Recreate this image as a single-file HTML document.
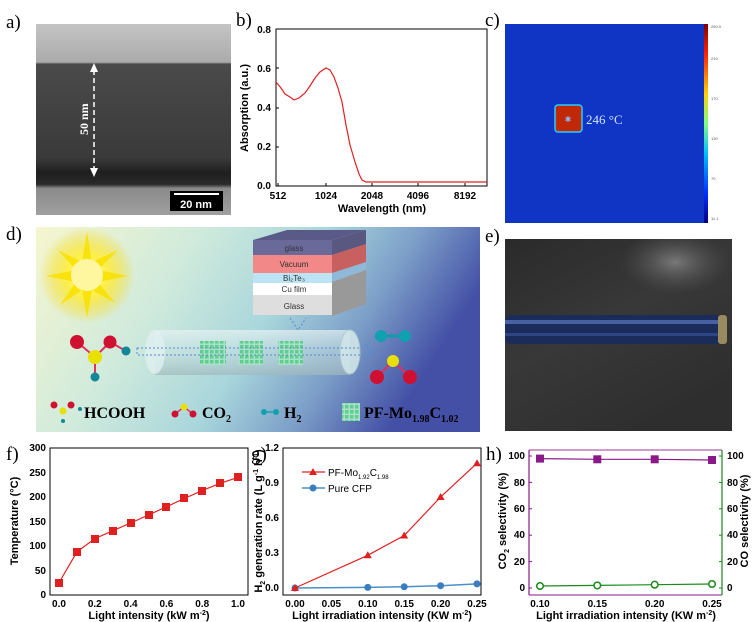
<!DOCTYPE html>
<html><head><meta charset="utf-8"><style>
html,body{margin:0;padding:0;background:#fff;}
svg{display:block;font-family:"Liberation Sans",Arial,sans-serif;}
.lb{font-family:"Liberation Serif",serif;font-size:19px;}
.tk{font-size:10px;font-weight:bold;}
.al{font-size:11px;font-weight:bold;}
</style></head><body>
<svg width="754" height="622" viewBox="0 0 754 622" xmlns="http://www.w3.org/2000/svg">
<defs>
<linearGradient id="ga" x1="0" y1="0" x2="0" y2="1">
<stop offset="0" stop-color="#c4c4c4"/><stop offset="0.2" stop-color="#ababab"/><stop offset="0.21" stop-color="#4a4a4a"/>
<stop offset="0.7" stop-color="#3a3a3a"/><stop offset="0.78" stop-color="#1e1e1e"/><stop offset="0.84" stop-color="#2a2a2a"/>
<stop offset="0.86" stop-color="#8a8a8a"/><stop offset="1" stop-color="#a0a0a0"/></linearGradient>
<linearGradient id="gd" x1="0" y1="0" x2="1" y2="0.3">
<stop offset="0" stop-color="#f6f6cf"/><stop offset="0.35" stop-color="#cfeadc"/><stop offset="0.6" stop-color="#a9d6dc"/>
<stop offset="0.8" stop-color="#7c9fc8"/><stop offset="1" stop-color="#4450a6"/></linearGradient>
<radialGradient id="gs"><stop offset="0" stop-color="#fffbe0"/><stop offset="0.4" stop-color="#fff04a"/><stop offset="1" stop-color="#f4d400" stop-opacity="0"/></radialGradient>
<linearGradient id="ge" x1="0" y1="0" x2="0.6" y2="1">
<stop offset="0" stop-color="#2a2a2a"/><stop offset="0.5" stop-color="#383838"/><stop offset="1" stop-color="#2e2e2e"/></linearGradient>
<radialGradient id="gl" cx="0.5" cy="0.5" r="0.5"><stop offset="0" stop-color="#8a8a8a" stop-opacity="0.8"/><stop offset="1" stop-color="#555" stop-opacity="0"/></radialGradient>
<linearGradient id="gcb" x1="0" y1="0" x2="0" y2="1">
<stop offset="0" stop-color="#800000"/><stop offset="0.15" stop-color="#ff2000"/><stop offset="0.35" stop-color="#ffd000"/>
<stop offset="0.5" stop-color="#80ff80"/><stop offset="0.65" stop-color="#00c0ff"/><stop offset="0.85" stop-color="#0030ff"/><stop offset="1" stop-color="#000080"/></linearGradient>
<linearGradient id="gt" x1="0" y1="0" x2="0" y2="1">
<stop offset="0" stop-color="#e8f4f4" stop-opacity="0.7"/><stop offset="0.5" stop-color="#c8e0e0" stop-opacity="0.5"/><stop offset="1" stop-color="#a0b8bc" stop-opacity="0.7"/></linearGradient>
<pattern id="mesh" width="5" height="5" patternUnits="userSpaceOnUse"><rect width="5" height="5" fill="#a9e0c8"/><rect width="3.5" height="3.5" fill="#5fcf90"/></pattern>
<clipPath id="ce"><rect x="505" y="239" width="227" height="192"/></clipPath>
</defs>

<text class="lb" x="6" y="28">a)</text>
<text class="lb" x="236" y="26">b)</text>
<text class="lb" x="485" y="26">c)</text>
<text class="lb" x="6" y="240">d)</text>
<text class="lb" x="485" y="242">e)</text>
<text class="lb" x="6" y="460">f)</text>
<text class="lb" x="251" y="460">g)</text>
<text class="lb" x="486" y="460">h)</text>

<!-- a -->
<rect x="36" y="24" width="195" height="191" fill="url(#ga)"/>
<line x1="94" y1="70" x2="94" y2="170" stroke="#fff" stroke-width="1.5" stroke-dasharray="5,3"/>
<polygon points="94,63 90,72 98,72" fill="#fff"/><polygon points="94,177 90,168 98,168" fill="#fff"/>
<text transform="translate(88,135) rotate(-90)" fill="#fff" font-family="Liberation Serif,serif" font-weight="bold" font-size="12">50 nm</text>
<rect x="170" y="191" width="53" height="20" fill="#000"/>
<line x1="174" y1="194" x2="219" y2="194" stroke="#fff" stroke-width="2"/>
<text x="196" y="208" fill="#fff" font-size="11" font-weight="bold" text-anchor="middle">20 nm</text>

<!-- b -->
<rect x="276" y="29" width="211" height="157" fill="none" stroke="#000" stroke-width="1"/>
<g class="tk" text-anchor="end">
<text x="271" y="189">0.0</text><text x="271" y="150">0.2</text><text x="271" y="111">0.4</text><text x="271" y="72">0.6</text><text x="271" y="33">0.8</text></g>
<g stroke="#000"><line x1="276" y1="147" x2="279" y2="147"/><line x1="276" y1="108" x2="279" y2="108"/><line x1="276" y1="68" x2="279" y2="68"/>
<line x1="278" y1="186" x2="278" y2="183"/><line x1="326" y1="186" x2="326" y2="183"/><line x1="372" y1="186" x2="372" y2="183"/><line x1="418" y1="186" x2="418" y2="183"/><line x1="465" y1="186" x2="465" y2="183"/></g>
<g class="tk" text-anchor="middle"><text x="278" y="199">512</text><text x="326" y="199">1024</text><text x="372" y="199">2048</text><text x="418" y="199">4096</text><text x="465" y="199">8192</text></g>
<text class="al" x="382" y="212" text-anchor="middle">Wavelength (nm)</text>
<text class="al" transform="translate(248,108) rotate(-90)" text-anchor="middle">Absorption (a.u.)</text>
<polyline fill="none" stroke="#e02020" stroke-width="1.2" points="276,82 281,88 285,94 290,97 294,100 299,98 305,93 310,86 315,78 320,72 326,68 330,70 334,77 338,88 342,102 346,125 350,145 355,162 359,174 362,180 366,182 420,182 487,182"/>

<!-- c -->
<rect x="505" y="24" width="201" height="199" fill="#1034c4"/>
<rect x="704" y="24" width="4" height="199" fill="url(#gcb)"/>
<rect x="555" y="105" width="27" height="27" rx="3" fill="#c02808" stroke="#20d0ff" stroke-width="1.5"/>
<text x="568" y="122" fill="#8fb8ff" font-size="8" text-anchor="middle">✱</text>
<text x="586" y="124" fill="#d0e4ff" font-family="Liberation Serif,serif" font-size="13">246 °C</text>
<g font-size="4" fill="#555"><text x="711" y="28">250.0</text><text x="711" y="60">210</text><text x="711" y="100">170</text><text x="711" y="140">130</text><text x="711" y="180">70</text><text x="711" y="220">11.1</text></g>

<!-- d -->
<rect x="36" y="227" width="444" height="205" fill="url(#gd)"/>
<circle cx="87" cy="275" r="48" fill="url(#gs)"/>
<polygon points="87,232 92,262 118,250 98,270 128,276 98,282 115,303 92,290 87,318 82,290 60,305 76,282 46,276 76,270 58,250 82,262" fill="#f8e000" opacity="0.85"/>
<circle cx="87" cy="275" r="16" fill="#fff7a0"/>
<polygon points="253,240 287,230 366,230 332,240" fill="#5a5a88"/>
<polygon points="332,240 366,230 366,304 332,316" fill="#999"/>
<polygon points="332,240 366,230 366,244 332,255" fill="#585880"/>
<polygon points="332,255 366,244 366,262 332,273" fill="#c86060"/>
<polygon points="332,273 366,262 366,270 332,282" fill="#90b8d8"/>
<rect x="253" y="240" width="79" height="15" fill="#6a6a9a"/>
<rect x="253" y="255" width="79" height="18" fill="#f28888"/>
<rect x="253" y="273" width="79" height="10" fill="#bde4f4"/>
<rect x="253" y="283" width="79" height="12" fill="#ffffff"/>
<rect x="253" y="295" width="79" height="20" fill="#dedede"/>
<g font-size="8" fill="#333" text-anchor="middle"><text x="294" y="251">glass</text><text x="294" y="267">Vacuum</text><text x="294" y="281">Bi₂Te₃</text><text x="294" y="292">Cu film</text><text x="294" y="309">Glass</text></g>
<polyline points="290,318 298,330 306,318" fill="none" stroke="#5a8ad0" stroke-dasharray="2,2"/>
<rect x="155" y="330" width="195" height="45" fill="url(#gt)"/>
<ellipse cx="155" cy="352" rx="10" ry="22" fill="#e0f0f0" opacity="0.8"/>
<ellipse cx="350" cy="352" rx="10" ry="22" fill="#d0e6e8" opacity="0.9" stroke="#b0c8cc"/>
<rect x="200" y="341" width="26" height="24" fill="url(#mesh)"/>
<rect x="239" y="341" width="24" height="24" fill="url(#mesh)"/>
<rect x="278" y="341" width="25" height="24" fill="url(#mesh)"/>
<rect x="137" y="348" width="228" height="7" fill="none" stroke="#5a8ad0" stroke-dasharray="2,2"/>
<polyline points="365,344 372,351.5 365,359" fill="none" stroke="#5a8ad0"/>
<g stroke="#e03060" stroke-width="2"><line x1="77" y1="342" x2="95" y2="357"/><line x1="110" y1="342" x2="95" y2="357"/><line x1="110" y1="342" x2="126" y2="351"/><line x1="95" y1="357" x2="95" y2="377"/>
<line x1="393" y1="361" x2="377" y2="377"/><line x1="393" y1="361" x2="410" y2="377"/></g>
<line x1="381" y1="336" x2="405" y2="336" stroke="#109aaa" stroke-width="3"/>
<circle cx="77" cy="342" r="7" fill="#d01030"/><circle cx="110" cy="342" r="6.5" fill="#d01030"/>
<circle cx="95" cy="357" r="7" fill="#e8e000"/><circle cx="126" cy="351" r="4.5" fill="#10889a"/><circle cx="95" cy="377" r="4.5" fill="#10889a"/>
<circle cx="381" cy="336" r="6" fill="#10a0b0"/><circle cx="405" cy="336" r="6" fill="#10a0b0"/>
<circle cx="393" cy="361" r="6" fill="#e8e000"/><circle cx="377" cy="377" r="7" fill="#d01030"/><circle cx="410" cy="377" r="7" fill="#d01030"/>
<circle cx="54" cy="405" r="3.5" fill="#d01030"/><circle cx="71" cy="405" r="3.5" fill="#d01030"/><circle cx="63" cy="411" r="3.5" fill="#e8e000"/><circle cx="80" cy="409" r="2" fill="#10889a"/><circle cx="63" cy="421" r="2" fill="#10889a"/>
<g stroke="#e03060" stroke-width="1.5"><line x1="175" y1="414" x2="184" y2="407"/><line x1="193" y1="414" x2="184" y2="407"/></g>
<circle cx="175" cy="414" r="3.5" fill="#d01030"/><circle cx="193" cy="414" r="3.5" fill="#d01030"/><circle cx="184" cy="407" r="3.5" fill="#e8e000"/>
<circle cx="264" cy="412" r="3" fill="#10a0b0"/><circle cx="276" cy="412" r="3" fill="#10a0b0"/><line x1="267" y1="412" x2="273" y2="412" stroke="#10a0b0" stroke-width="1.5"/>
<rect x="342" y="403" width="18" height="18" fill="url(#mesh)"/>
<g font-family="Liberation Serif,serif" font-weight="bold" fill="#000">
<text x="84" y="418" font-size="16">HCOOH</text>
<text x="202" y="418" font-size="16">CO<tspan font-size="10" dy="4">2</tspan></text>
<text x="284" y="418" font-size="16">H<tspan font-size="10" dy="4">2</tspan></text>
<text x="364" y="418" font-size="16">PF-Mo<tspan font-size="10" dy="4">1.98</tspan><tspan dy="-4">C</tspan><tspan font-size="10" dy="4">1.02</tspan></text></g>

<!-- e -->
<rect x="505" y="239" width="227" height="192" fill="url(#ge)"/>
<ellipse cx="675" cy="262" rx="55" ry="32" fill="url(#gl)" clip-path="url(#ce)"/>
<rect x="505" y="315" width="222" height="29" rx="6" fill="#1c2c5a"/>
<rect x="505" y="320" width="215" height="4" fill="#5a78c0" opacity="0.7"/>
<rect x="505" y="333" width="215" height="3" fill="#3a58a0" opacity="0.6"/>
<rect x="718" y="315" width="9" height="29" rx="3" fill="#9a8a60"/>

<!-- f -->
<rect x="50" y="448" width="198" height="147" fill="none" stroke="#000"/>
<g class="tk" text-anchor="end"><text x="46" y="598">0</text><text x="46" y="574">50</text><text x="46" y="549">100</text><text x="46" y="525">150</text><text x="46" y="500">200</text><text x="46" y="476">250</text><text x="46" y="451">300</text></g>
<g class="tk" text-anchor="middle"><text x="59" y="607">0.0</text><text x="94.8" y="607">0.2</text><text x="130.6" y="607">0.4</text><text x="166.4" y="607">0.6</text><text x="202.2" y="607">0.8</text><text x="238" y="607">1.0</text></g>
<text class="al" x="149" y="619" text-anchor="middle">Light intensity (kW m<tspan font-size="7" dy="-4">-2</tspan><tspan dy="4">)</tspan></text>
<text class="al" transform="translate(18,521) rotate(-90)" text-anchor="middle">Temperature (°C)</text>
<polyline fill="none" stroke="#e02020" stroke-width="1.2" points="59,582.75 76.9,551.9 94.8,538.6 112.7,530.8 130.6,523 148.5,515 166.4,506.8 184.3,498.5 202.2,490.6 220.1,483.3 238,477.4"/>
<g fill="#e02020"><rect x="55" y="579" width="8" height="8"/><rect x="73" y="548" width="8" height="8"/><rect x="91" y="535" width="8" height="8"/><rect x="109" y="527" width="8" height="8"/><rect x="127" y="519" width="8" height="8"/><rect x="145" y="511" width="8" height="8"/><rect x="162" y="503" width="8" height="8"/><rect x="180" y="494" width="8" height="8"/><rect x="198" y="487" width="8" height="8"/><rect x="216" y="479" width="8" height="8"/><rect x="234" y="473" width="8" height="8"/></g>

<!-- g -->
<rect x="283" y="448" width="198" height="147" fill="none" stroke="#000"/>
<g class="tk" text-anchor="end"><text x="279" y="591">0.0</text><text x="279" y="556">0.3</text><text x="279" y="521">0.6</text><text x="279" y="486">0.9</text><text x="279" y="451">1.2</text></g>
<g class="tk" text-anchor="middle"><text x="295" y="607">0.00</text><text x="331.4" y="607">0.05</text><text x="367.8" y="607">0.10</text><text x="404.2" y="607">0.15</text><text x="440.6" y="607">0.20</text><text x="477" y="607">0.25</text></g>
<text class="al" x="382" y="619" text-anchor="middle">Light irradiation intensity (KW m<tspan font-size="7" dy="-4">-2</tspan><tspan dy="4">)</tspan></text>
<text class="al" transform="translate(262,521) rotate(-90)" text-anchor="middle">H<tspan font-size="7" dy="3">2</tspan><tspan dy="-3"> generation rate (L g</tspan><tspan font-size="7" dy="-4">-1</tspan><tspan dy="4"> h</tspan><tspan font-size="7" dy="-4">-1</tspan><tspan dy="4">)</tspan></text>
<polyline fill="none" stroke="#4a90c8" stroke-width="1.5" points="295,588 367.8,587.4 404.2,586.8 440.6,585.7 477,583.9"/>
<g fill="#3a7ec0"><circle cx="295" cy="588" r="3.5"/><circle cx="367.8" cy="587.4" r="3.5"/><circle cx="404.2" cy="586.8" r="3.5"/><circle cx="440.6" cy="585.7" r="3.5"/><circle cx="477" cy="583.9" r="3.5"/></g>
<polyline fill="none" stroke="#e02020" stroke-width="1.2" points="295,588 367.8,555.3 404.2,535.5 440.6,497 477,463.2"/>
<g fill="#e02020"><polygon points="295,584 299,591 291,591"/><polygon points="367.8,551.3 371.8,558.3 363.8,558.3"/><polygon points="404.2,531.5 408.2,538.5 400.2,538.5"/><polygon points="440.6,493 444.6,500 436.6,500"/><polygon points="477,459.2 481,466.2 473,466.2"/></g>
<line x1="302" y1="472" x2="325" y2="472" stroke="#e02020" stroke-width="1.2"/><polygon points="313,468 317,475 309,475" fill="#e02020"/>
<line x1="302" y1="488" x2="325" y2="488" stroke="#4a90c8" stroke-width="1.5"/><circle cx="313" cy="488" r="3.5" fill="#3a7ec0"/>
<text x="328" y="476" font-size="10">PF-Mo<tspan font-size="6" dy="3">1.92</tspan><tspan dy="-3">C</tspan><tspan font-size="6" dy="3">1.98</tspan></text>
<text x="328" y="492" font-size="10">Pure CFP</text>

<!-- h -->
<line x1="529" y1="450" x2="722" y2="450" stroke="#9a3a98"/>
<line x1="529" y1="595" x2="722" y2="595" stroke="#8b1a89"/>
<line x1="529" y1="450" x2="529" y2="595" stroke="#8b1a89" stroke-width="1.2"/>
<line x1="722" y1="450" x2="722" y2="595" stroke="#1a8a1a" stroke-width="1.2"/>
<g stroke="#8b1a89"><line x1="529" y1="588" x2="532" y2="588"/><line x1="529" y1="561.6" x2="532" y2="561.6"/><line x1="529" y1="535.2" x2="532" y2="535.2"/><line x1="529" y1="508.8" x2="532" y2="508.8"/><line x1="529" y1="482.4" x2="532" y2="482.4"/><line x1="529" y1="456" x2="532" y2="456"/></g>
<g stroke="#1a8a1a"><line x1="719" y1="588" x2="722" y2="588"/><line x1="719" y1="561.6" x2="722" y2="561.6"/><line x1="719" y1="535.2" x2="722" y2="535.2"/><line x1="719" y1="508.8" x2="722" y2="508.8"/><line x1="719" y1="482.4" x2="722" y2="482.4"/><line x1="719" y1="456" x2="722" y2="456"/></g>
<g class="tk" text-anchor="end"><text x="525" y="591">0</text><text x="525" y="565">20</text><text x="525" y="538">40</text><text x="525" y="512">60</text><text x="525" y="486">80</text><text x="525" y="459">100</text></g>
<g class="tk"><text x="727" y="591">0</text><text x="727" y="565">20</text><text x="727" y="538">40</text><text x="727" y="512">60</text><text x="727" y="486">80</text><text x="727" y="459">100</text></g>
<g class="tk" text-anchor="middle"><text x="540" y="607">0.10</text><text x="597.3" y="607">0.15</text><text x="654.7" y="607">0.20</text><text x="712" y="607">0.25</text></g>
<text class="al" x="626" y="619" text-anchor="middle">Light irradiation intensity (KW m<tspan font-size="7" dy="-4">-2</tspan><tspan dy="4">)</tspan></text>
<text class="al" transform="translate(506,521) rotate(-90)" text-anchor="middle">CO<tspan font-size="7" dy="3">2</tspan><tspan dy="-3"> selectivity (%)</tspan></text>
<text class="al" transform="translate(748,521) rotate(-90)" text-anchor="middle">CO selectivity (%)</text>
<polyline fill="none" stroke="#8b1a89" stroke-width="1.2" points="540,458.6 597.3,459.3 654.7,459.3 712,460"/>
<g fill="#8b1a89"><rect x="536" y="454.6" width="8" height="8"/><rect x="593.3" y="455.3" width="8" height="8"/><rect x="650.7" y="455.3" width="8" height="8"/><rect x="708" y="456" width="8" height="8"/></g>
<polyline fill="none" stroke="#1a8a1a" stroke-width="1.2" points="540,586 597.3,585.4 654.7,584.7 712,584"/>
<g fill="#fff" stroke="#1a8a1a" stroke-width="1.5"><circle cx="540" cy="586" r="3.3"/><circle cx="597.3" cy="585.4" r="3.3"/><circle cx="654.7" cy="584.7" r="3.3"/><circle cx="712" cy="584" r="3.3"/></g>
</svg>
</body></html>
